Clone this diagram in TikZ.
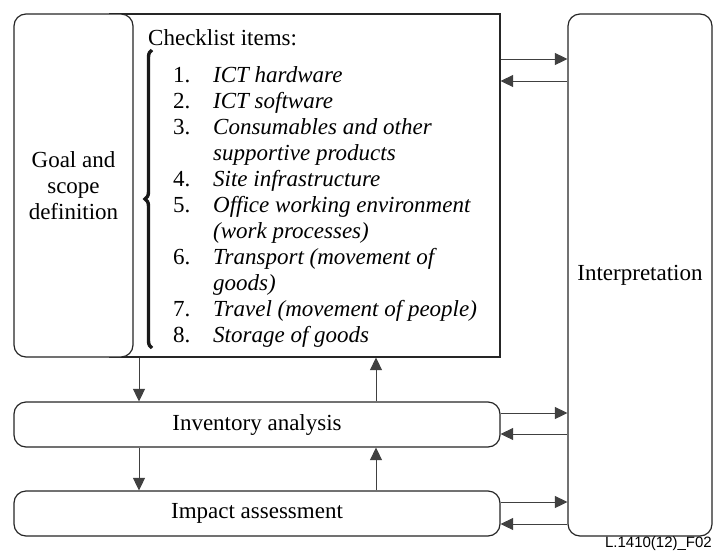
\documentclass[tikz,border=0pt]{standalone}
\usepackage{fontspec}
\setmainfont{Liberation Serif}
\newfontfamily\figlabelfont{Liberation Sans}
\usetikzlibrary{arrows.meta,decorations.pathreplacing}
\begin{document}
\begin{tikzpicture}[x=1pt,y=-1pt,
  font=\fontsize{23}{26}\selectfont,
  box/.style={draw=black!85, line width=1.2pt, inner sep=0pt},
  rbox/.style={box, rounded corners=12pt, fill=white},
  arr/.style={draw=black!75, line width=1pt, -{Triangle[length=12.5pt,width=12pt]}},
  item/.style={anchor=base west, inner sep=0pt},
]
\useasboundingbox (0,0) rectangle (714,552);

% boxes
\node[box, minimum width=390pt, minimum height=343pt] (check) at (305,185.5) {};
\node[rbox, minimum width=119pt, minimum height=343pt, align=center] (goal) at (73.5,185.5) {Goal and\\scope\\definition};
\node[rbox, minimum width=144pt, minimum height=522pt] (interp) at (640,275) {Interpretation};
\node[rbox, minimum width=486pt, minimum height=45pt] (inv) at (257,424.5) {Inventory analysis};
\node[rbox, minimum width=486pt, minimum height=45pt] (imp) at (257,513.5) {Impact assessment};

% checklist
\node[item] (head) at (148,45) {Checklist items:};
\foreach \n/\y in {1/82, 2/108, 3/134, 4/186, 5/212, 6/264, 7/316, 8/342}
  \node[item] (num\n) at (173,\y) {\n.};
\foreach \t/\y [count=\i] in {{ICT hardware}/82, {ICT software}/108, {Consumables and other}/134,
  {supportive products}/160, {Site infrastructure}/186, {Office working environment}/212,
  {(work processes)}/238, {Transport (movement of}/264, {goods)}/290,
  {Travel (movement of people)}/316, {Storage of goods}/342}
  \node[item] (txt\i) at (213,\y) {\itshape\t};

\coordinate (bb) at (152,348);
\coordinate (bt) at (152,50);
\draw[line width=3.4pt, black!90, decorate, decoration={brace, amplitude=7pt}] (bb) -- (bt);

% connector helper coordinates
\coordinate (r1) at (0,59);  \coordinate (l1) at (0,81);
\coordinate (r2) at (0,413); \coordinate (l2) at (0,434);
\coordinate (r3) at (0,502); \coordinate (l3) at (0,524);
\coordinate (dx) at (139,0); \coordinate (ux) at (376,0);

\draw[arr] (check.east |- r1) -- (interp.west |- r1);
\draw[arr] (interp.west |- l1) -- (check.east |- l1);
\draw[arr] (inv.east |- r2) -- (interp.west |- r2);
\draw[arr] (interp.west |- l2) -- (inv.east |- l2);
\draw[arr] (imp.east |- r3) -- (interp.west |- r3);
\draw[arr] (interp.west |- l3) -- (imp.east |- l3);

\draw[arr] (check.south -| dx) -- (inv.north -| dx);
\draw[arr] (inv.north -| ux) -- (check.south -| ux);
\draw[arr] (inv.south -| dx) -- (imp.north -| dx);
\draw[arr] (imp.north -| ux) -- (inv.south -| ux);

\node[anchor=base east, inner sep=0pt, font=\figlabelfont\fontsize{15}{18}\selectfont] (lbl) at (712,547) {L.1410(12)\_F02};
\end{tikzpicture}
\end{document}
